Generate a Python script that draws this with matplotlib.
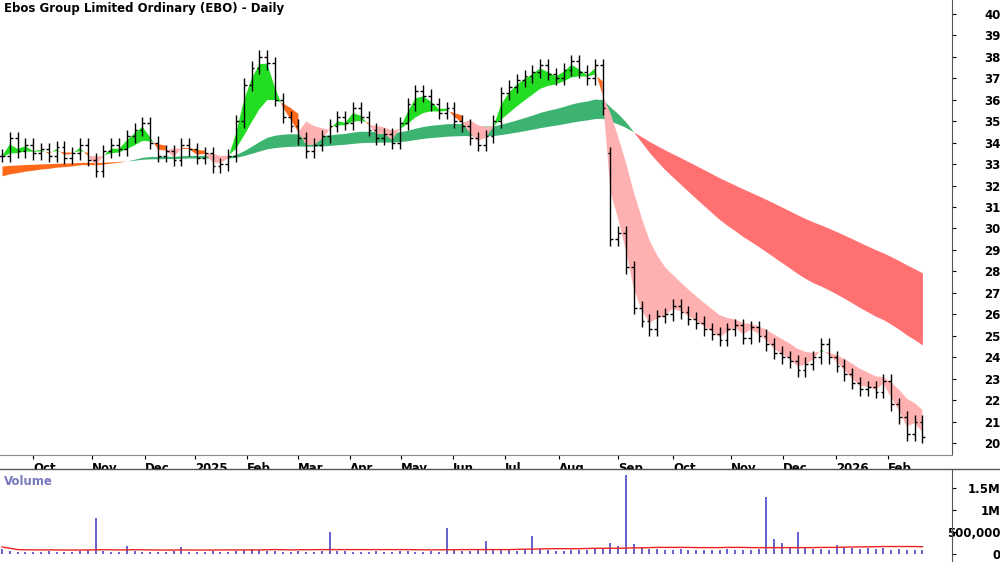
import matplotlib
matplotlib.use("Agg")
import matplotlib.pyplot as plt
import numpy as np
import pandas as pd

closes = [33.4,34.2,33.6,33.9,33.5,33.7,33.4,33.8,33.3,33.5,33.9,33.2,32.7,33.6,33.9,33.7,34.3,34.6,34.9,34.0,
          33.4,33.6,33.2,33.9,33.7,33.3,33.5,32.9,33.0,33.4,35.0,36.7,37.5,38.0,37.7,36.0,35.2,34.8,34.2,33.6,
          33.9,34.3,34.8,35.2,34.9,35.6,35.2,34.6,34.2,34.4,34.0,34.9,35.8,36.4,36.2,35.8,35.4,35.6,35.0,34.8,
          34.2,33.9,34.3,35.0,36.3,36.6,36.9,37.1,37.3,37.6,37.2,37.0,37.4,37.8,37.3,37.0,37.6,35.6,29.5,29.8,
          28.2,26.3,25.7,25.3,25.9,26.0,26.4,26.1,25.8,25.6,25.3,25.1,24.8,25.3,25.5,24.9,25.4,25.0,24.6,24.2,
          24.0,23.8,23.4,23.7,24.0,24.6,24.0,23.6,23.2,22.8,22.5,22.6,22.4,22.9,21.8,21.2,20.4,21.0,20.3]
volumes = [120,60,50,40,55,45,60,50,45,50,60,80,820,60,50,45,180,60,50,40,
           50,45,60,170,50,40,45,60,55,50,70,90,110,80,60,70,50,45,60,50,
           55,60,500,70,60,50,55,45,60,50,55,60,70,50,45,60,55,600,90,70,
           60,80,300,90,100,80,70,90,400,120,80,70,60,90,80,100,110,130,250,180,
           1800,220,150,120,110,100,90,110,100,90,95,100,90,110,100,90,100,120,1300,350,
           250,150,500,140,120,110,100,200,150,130,110,140,120,130,100,110,90,100,80]
month_labels = ["Oct","Nov","Dec","2025","Feb","Mar","Apr","May","Jun","Jul","Aug","Sep","Oct","Nov","Dec","2026","Feb"]
month_px = [33,92,145,195,247,298,350,401,453,505,559,618,673,731,783,836,888]

c = np.array(closes)
n = len(c)
x = np.arange(n)
o = np.r_[c[0], c[:-1]]
o[78] = 33.5
hi = np.maximum(o, c) + 0.3
lo = np.minimum(o, c) - 0.3

def ema(vals, span, seed):
    a = 2 / (span + 1); out = []; e = seed
    for v in vals:
        e = e + a * (v - e); out.append(e)
    return np.array(out)

s_fast = ema(c, 2, 33.3); s_slow = ema(c, 9, 33.3)
l_fast = ema(c, 36, 32.4); l_slow = ema(c, 80, 32.9)

px2x = lambda p: (p - 2) / 7.8
fig = plt.figure(figsize=(10, 5.62), dpi=100)
ax = fig.add_axes([0, 1 - 455/562, 952/1000, 455/562])
av = fig.add_axes([0, 0, 952/1000, 92/562])

lg = l_fast > l_slow
ax.fill_between(x, l_fast, l_slow, where=lg, color="#3cb371", interpolate=True, lw=0)
early = x < 70
ax.fill_between(x, l_fast, l_slow, where=(~lg) & early, color="#ff6a1a", interpolate=True, lw=0)
ax.fill_between(x, l_fast, l_slow, where=(~lg) & (x >= 69), color="#ff7070", interpolate=True, lw=0)
sg = s_fast > s_slow
above = np.minimum(s_fast, s_slow) > np.maximum(l_fast, l_slow)
ax.fill_between(x, s_fast, s_slow, where=sg, color="#22dd22", interpolate=True, lw=0)
ax.fill_between(x, s_fast, s_slow, where=(~sg) & above, color="#ff6a1a", interpolate=True, lw=0)
ax.fill_between(x, s_fast, s_slow, where=(~sg) & ~above, color="#ffb0b0", interpolate=True, lw=0)

for i in range(n):
    ax.vlines(x[i], lo[i], hi[i], color="black", lw=1)
    ax.hlines(o[i], x[i] - 0.35, x[i], color="black", lw=1)
    ax.hlines(c[i], x[i], x[i] + 0.35, color="black", lw=1)

ax.set_xlim(px2x(0), px2x(952))
ax.set_ylim(20 - 12/21.45, 40 + 14/21.45)
ax.yaxis.tick_right()
ax.set_yticks(range(20, 41))
ax.tick_params(axis="y", length=3, labelsize=8.5, pad=32)
for lab in ax.get_yticklabels():
    lab.set_fontweight("bold"); lab.set_ha("right")
ax.set_xticks([px2x(p) for p in month_px])
ax.set_xticklabels(month_labels, fontsize=8.5, fontweight="bold", ha="left")
ax.tick_params(axis="x", length=3, pad=2)
ax.text(0.004, 0.995, "Ebos Group Limited Ordinary (EBO) - Daily", transform=ax.transAxes,
        fontsize=8.5, fontweight="bold", va="top", ha="left")
for s in ["top", "left"]:
    ax.spines[s].set_visible(False)
ax.spines["right"].set_color("#555555"); ax.spines["bottom"].set_color("#888888")

v = np.array(volumes) * 1000
av.bar(x, v, width=0.25, color="#6666cc")
av.plot(x, pd.Series(v).rolling(20, min_periods=1).median() + 40000, color="#ee2222", lw=1)
av.set_xlim(px2x(0), px2x(952))
av.set_ylim(-8/44 * 1e6, 84/44 * 1e6)
av.yaxis.tick_right()
av.set_yticks([0, 500000, 1000000, 1500000])
av.set_yticklabels(["0", "500,000", "1M", "1.5M"], fontsize=8.5, fontweight="bold")
av.tick_params(axis="y", length=3, pad=32)
for lab in av.get_yticklabels():
    lab.set_ha("right")
av.set_xticks([])
av.text(0.004, 0.95, "Volume", transform=av.transAxes, fontsize=8.5, fontweight="bold",
        color="#7777bb", va="top")
for s in ["top", "left", "bottom"]:
    av.spines[s].set_visible(False)
av.spines["right"].set_color("#555555")
fig.add_artist(plt.Line2D([0, 1], [1 - 469/562] * 2, color="#555555", lw=1))
fig.savefig("out.png")
